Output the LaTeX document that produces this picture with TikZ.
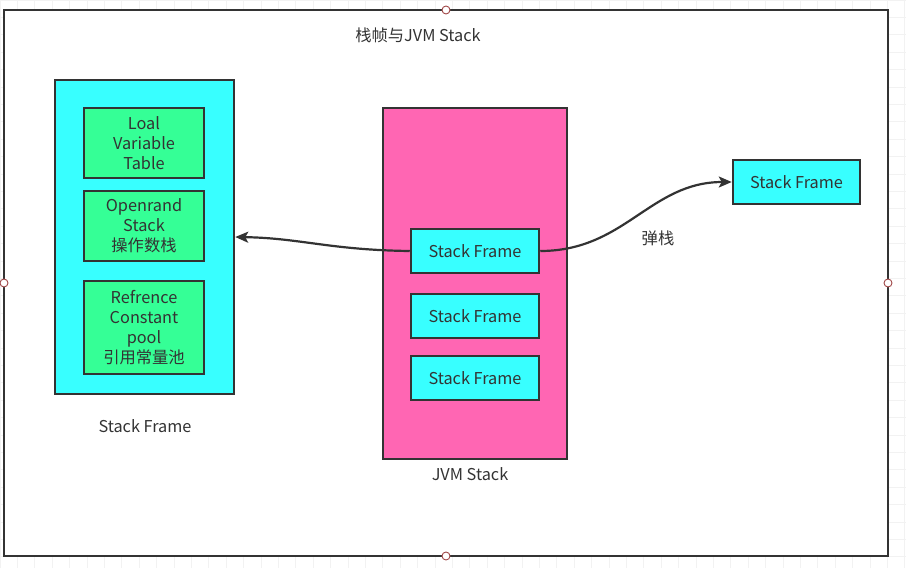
\documentclass[tikz,border=0pt]{standalone}
\usepackage{fontspec}
\setmainfont{Noto Sans CJK SC}
\usetikzlibrary{arrows.meta}
\definecolor{ink}{HTML}{333333}
\definecolor{cyanbox}{HTML}{38FFFF}
\definecolor{greenbox}{HTML}{35FF96}
\definecolor{pinkbox}{HTML}{FF66B3}
\definecolor{gridc}{HTML}{F2F2F2}
\definecolor{handle}{HTML}{A04848}
\tikzset{
  box/.style={draw=ink, line width=2.5pt, inner sep=0pt, text=ink, font=\fontsize{16.3}{20}\selectfont, align=center},
  cyanfill/.style={box, fill=cyanbox},
  greenfill/.style={box, fill=greenbox},
  pinkfill/.style={box, fill=pinkbox},
  lbl/.style={text=ink, font=\fontsize{16.3}{20}\selectfont, inner sep=0pt},
  conn/.style={draw=ink, line width=2.2pt, -{Stealth[length=13pt,width=11pt,inset=3pt]}},
  hdl/.style={circle, draw=handle, fill=white, line width=0.9pt, minimum size=8pt, inner sep=0pt}
}
\begin{document}
\begin{tikzpicture}[x=1pt,y=-1pt]
\useasboundingbox (0,0) rectangle (906,568);
\fill[white] (0,0) rectangle (906,568);
% faint grid
\foreach \i in {0,...,52} {\draw[gridc, line width=0.8pt] (\i*17.4,0) -- (\i*17.4,568);}
\foreach \j in {0,...,33} {\draw[gridc, line width=0.8pt] (0,\j*17.4) -- (906,\j*17.4);}
% outer frame
\node[draw=ink, fill=white, line width=2.5pt, minimum width=884pt, minimum height=546pt, inner sep=0pt] (frame) at (446,283) {};
\node[lbl] (title) at (418,35) {栈帧与JVM Stack};
% left stack frame
\node[cyanfill, minimum width=179pt, minimum height=314pt] (lf) at (144.5,237) {};
\node[greenfill, minimum width=120pt, minimum height=70pt] (lvt) at (144,143) {Loal\\Variable\\Table};
\node[greenfill, minimum width=120pt, minimum height=70pt] (ops) at (144,226) {Openrand\\Stack\\操作数栈};
\node[greenfill, minimum width=120pt, minimum height=93pt] (rcp) at (144,327.5) {Refrence\\Constant\\pool\\引用常量池};
\node[lbl] (lflabel) at (145,426) {Stack Frame};
% JVM stack
\node[pinkfill, minimum width=184pt, minimum height=351pt] (jvm) at (475,283.5) {};
\node[cyanfill, minimum width=128pt, minimum height=44pt] (sf1) at (475,251) {Stack Frame};
\node[cyanfill, minimum width=128pt, minimum height=44pt] (sf2) at (475,316) {Stack Frame};
\node[cyanfill, minimum width=128pt, minimum height=44pt] (sf3) at (475,378) {Stack Frame};
\node[lbl] (jvmlabel) at (470,474) {JVM Stack};
% popped frame
\node[cyanfill, minimum width=127pt, minimum height=44pt] (sfr) at (796.5,182) {Stack Frame};
\node[lbl] (pop) at (658,238) {弹栈};
% connectors
\draw[conn] (sf1.west) .. controls (330,250) and (300,238) .. (lf.east |- 0,237);
\draw[conn] (sf1.east) .. controls (625,251) and (650,182) .. (sfr.west);
% handles
\node[hdl] (h1) at (446,10) {};
\node[hdl] (h2) at (4,283) {};
\node[hdl] (h3) at (888,283) {};
\node[hdl] (h4) at (446,556) {};
\end{tikzpicture}
\end{document}
